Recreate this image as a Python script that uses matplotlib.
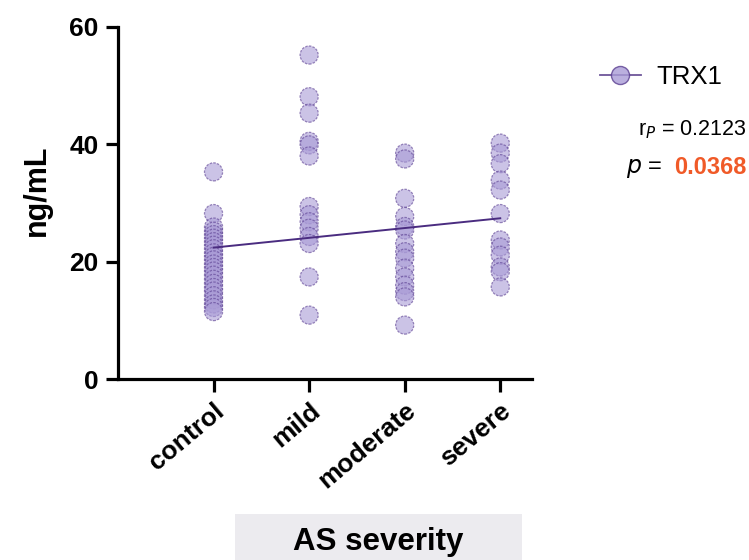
import matplotlib.pyplot as plt
from matplotlib.lines import Line2D
from matplotlib.patches import Rectangle

plt.rcParams['font.family'] = ['Liberation Sans', 'DejaVu Sans']

groups = ['control', 'mild', 'moderate', 'severe']
control = [35.3, 28.2, 25.9, 25.2, 24.6, 24.0, 23.4, 22.8, 22.2, 21.5, 20.9, 20.3, 19.6,
           19.0, 18.4, 17.7, 17.0, 16.3, 15.6, 15.0, 14.2, 13.5, 12.8, 12.2, 11.5]
mild = [55.2, 48.1, 45.3, 40.5, 39.9, 38.0, 29.4, 28.0, 26.8, 25.7, 24.3, 23.1, 17.4, 10.9]
moderate = [38.5, 37.5, 30.8, 27.7, 26.0, 25.4, 23.1, 21.7, 20.6, 18.9, 17.4, 16.0, 14.9, 14.0, 9.2]
severe = [40.2, 38.5, 36.7, 33.9, 32.2, 28.2, 23.7, 22.5, 21.1, 19.1, 18.3, 15.7]
fit_start, fit_end = 22.4, 27.4
r_text = '0.2123'
p_text = '0.0368'

face = '#a99bd6'
edge = '#5b3f91'
line_c = '#4a2c80'

fig = plt.figure(figsize=(7.49, 5.6), dpi=100)
ax = fig.add_axes([0.1575, 0.323, 0.5525, 0.629])

for i, vals in enumerate([control, mild, moderate, severe]):
    ax.scatter([i] * len(vals), vals, s=170, facecolor=face, edgecolor=edge,
               linewidth=0.9, linestyle=(0, (2, 1)), alpha=0.6, zorder=3)
ax.plot([0, 3], [fit_start, fit_end], color=line_c, lw=1.4, zorder=4)

ax.set_xlim(-1.0, 3.33)
ax.set_ylim(0, 60)
ax.set_yticks([0, 20, 40, 60])
ax.set_xticks(range(4))
ax.set_xticklabels(groups, rotation=40, ha='right', rotation_mode='anchor',
                   fontsize=19, fontweight='bold')
for t in ax.get_yticklabels():
    t.set_fontsize(19)
    t.set_fontweight('bold')
ax.spines['top'].set_visible(False)
ax.spines['right'].set_visible(False)
for s in ['left', 'bottom']:
    ax.spines[s].set_linewidth(2.3)
ax.tick_params(width=2.3, length=9, pad=5)
ax.set_ylabel('ng/mL', fontsize=22, fontweight='bold', labelpad=12)
ax.yaxis.set_label_coords(-0.16, 0.535)

# x-axis title with shaded box
fig.patches.append(Rectangle((0.3138, 0.0), 0.383, 0.082, transform=fig.transFigure,
                             facecolor='#ecebef', edgecolor='none', zorder=0))
fig.text(0.505, 0.032, 'AS severity', ha='center', va='center', fontsize=22.5,
         fontweight='bold')

# legend
h = Line2D([], [], color=line_c, lw=1.3, marker='o', markersize=13,
           markerfacecolor=face, markeredgecolor=edge, alpha=0.8)
fig.legend([h], ['TRX1'], loc='center left', bbox_to_anchor=(0.77, 0.862),
           frameon=False, fontsize=18.5, handlelength=1.6, handletextpad=0.6)

fig.text(0.997, 0.768, r'r$_{\mathit{P}}$ = ' + r_text, ha='right', va='center', fontsize=15.5)
fig.text(0.895, 0.700, r'$\mathit{p}$ =  ', ha='right', va='center', fontsize=17)
fig.text(0.997, 0.700, p_text, ha='right', va='center', fontsize=17, fontweight='bold',
         color='#f05a28')

fig.savefig('out.png', dpi=100, facecolor='white')
